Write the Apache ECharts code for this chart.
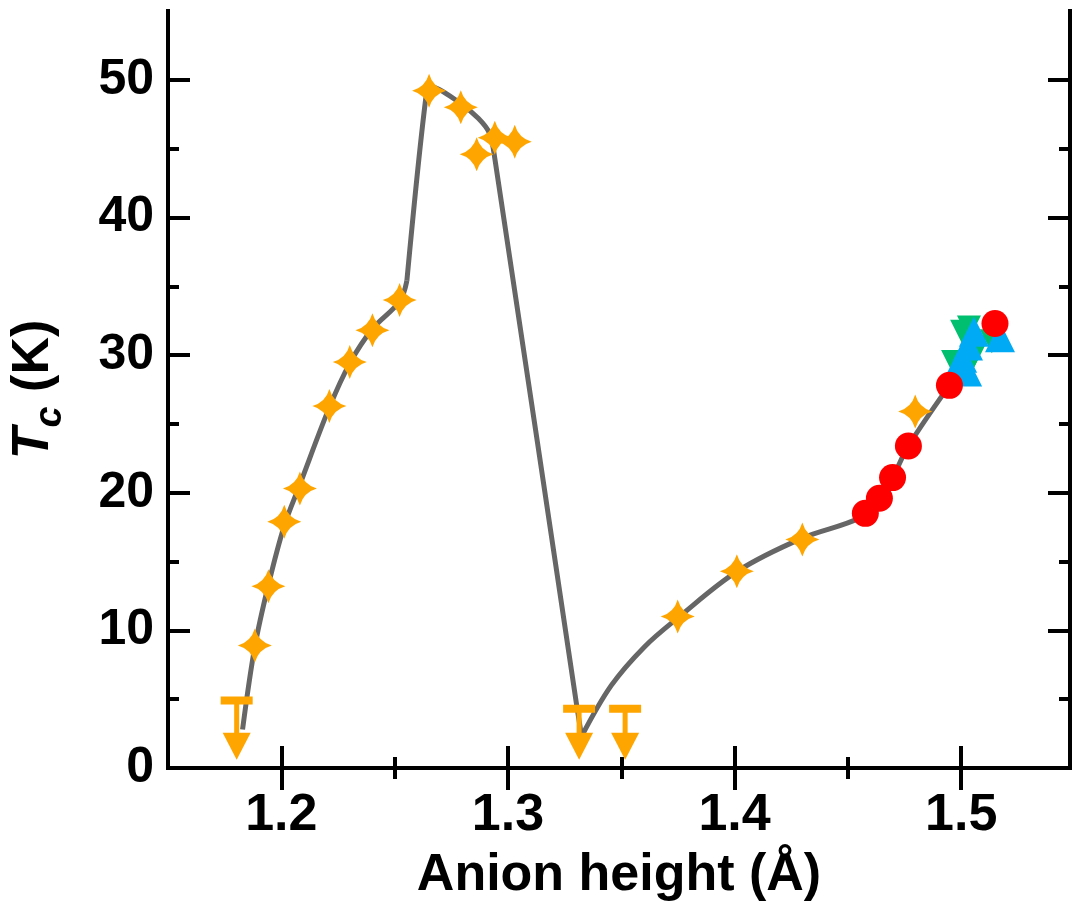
<!DOCTYPE html>
<html>
<head>
<meta charset="utf-8">
<script src="https://cdn.jsdelivr.net/npm/echarts@6/dist/echarts.min.js"></script>
<style>
  html, body { margin: 0; padding: 0; background: #ffffff; }
  #chart { width: 1072px; height: 911px; }
</style>
</head>
<body>
<div id="chart"></div>
<script>
// Superconducting Tc against anion height for iron-based compounds

const xMajorTicks = [1.2, 1.3, 1.4, 1.5];
const xMinorTicks = [1.25, 1.35, 1.45];
const yMajorTicks = [0, 10, 20, 30, 40, 50];
const yMinorTicks = [5, 15, 25, 35, 45];

// [anion height (Å), Tc (K)]
const starPoints = [
  [1.1883, 8.9], [1.1943, 13.2], [1.2013, 17.9], [1.2082, 20.3],
  [1.2212, 26.3], [1.2302, 29.5], [1.2402, 31.8], [1.2522, 34.0],
  [1.2652, 49.2], [1.2792, 48.0], [1.2862, 44.6], [1.2942, 45.8],
  [1.3030, 45.5], [1.3749, 11.0], [1.4010, 14.3], [1.4299, 16.6],
  [1.4797, 25.9]
];
const circlePoints = [
  [1.4577, 18.5], [1.4639, 19.6], [1.4697, 21.1], [1.4767, 23.4],
  [1.4948, 27.8], [1.5149, 32.3]
];
const upTrianglePoints = [
  [1.5056, 31.7], [1.5171, 31.3], [1.5030, 30.7], [1.5004, 29.8],
  [1.4986, 28.9], [1.5026, 28.8]
];
const downTrianglePoints = [
  [1.5004, 31.7], [1.5034, 32.0], [1.5135, 31.0], [1.5052, 29.8],
  [1.5030, 29.1], [1.4964, 29.5]
];
// upper limits on Tc: [anion height, Tc limit]
const upperLimits = [[1.1803, 4.9], [1.3314, 4.3], [1.3517, 4.3]];
const arrowTipLevel = 0.6;

// guide to the eye, in three pieces joined at the sharp corners
const guideRise = [
  [1.1829, 2.8], [1.1883, 8.8], [1.1943, 13.3], [1.2013, 17.6],
  [1.2082, 20.6], [1.2212, 26.2], [1.2302, 29.4], [1.2402, 31.9],
  [1.2522, 33.9], [1.2554, 35.4]
];
const guideDome = [
  [1.2554, 35.4], [1.2637, 48.6], [1.2662, 49.5], [1.2781, 48.4],
  [1.2869, 47.2], [1.2919, 46.1], [1.2942, 44.3], [1.3302, 4.7],
  [1.3325, 2.3]
];
const guideTail = [
  [1.3325, 2.3], [1.3456, 6.0], [1.3602, 8.8], [1.3749, 10.9],
  [1.4013, 14.3], [1.4299, 16.7], [1.4555, 18.2], [1.4639, 19.6],
  [1.4697, 21.1], [1.4767, 23.4], [1.4948, 27.8], [1.5149, 32.3]
];

const X_MIN = 1.15, X_MAX = 1.548;
const Y_MIN = 0, Y_MAX = 55;
const FONT = '"Liberation Sans", Arial, Helvetica, sans-serif';
const ORANGE = '#FFA500';
const STAR = 'path://M50,0 Q61,39 100,50 Q61,61 50,100 Q39,61 0,50 Q39,39 50,0 Z';

function tickAxis(kind, position, values, length, withLine) {
  return {
    type: 'value',
    position: position,
    min: kind === 'x' ? X_MIN : Y_MIN,
    max: kind === 'x' ? X_MAX : Y_MAX,
    axisLine: withLine
      ? { show: true, lineStyle: { color: '#000', width: 4, cap: 'square' } }
      : { show: false },
    axisTick: {
      show: true, inside: true, length: length, customValues: values,
      lineStyle: { color: '#000', width: 4 }
    },
    axisLabel: { show: false },
    splitLine: { show: false }
  };
}

const xMain = tickAxis('x', 'bottom', xMajorTicks, 22, true);
xMain.axisLabel = {
  show: true, customValues: xMajorTicks, margin: 22,
  fontFamily: FONT, fontWeight: 'bold', fontSize: 52, color: '#000',
  formatter: v => v.toFixed(1)
};
xMain.name = 'Anion height (Å)';
xMain.nameLocation = 'middle';
xMain.nameGap = 82;
xMain.nameTextStyle = { fontFamily: FONT, fontWeight: 'bold', fontSize: 52, color: '#000' };

const yMain = tickAxis('y', 'left', yMajorTicks, 22, true);
yMain.axisLabel = {
  show: true, customValues: yMajorTicks, margin: 14,
  fontFamily: FONT, fontWeight: 'bold', fontSize: 50, color: '#000'
};
yMain.name = '{t|T}{s|c}{k| (K)}';
yMain.nameLocation = 'middle';
yMain.nameRotate = 90;
yMain.nameGap = 98;
yMain.nameTextStyle = {
  color: '#000',
  rich: {
    t: { fontFamily: FONT, fontWeight: 'bold', fontStyle: 'italic', fontSize: 52, color: '#000' },
    s: { fontFamily: FONT, fontWeight: 'bold', fontStyle: 'italic', fontSize: 38, color: '#000',
         padding: [34, 0, 0, 0] },
    k: { fontFamily: FONT, fontWeight: 'bold', fontSize: 52, color: '#000' }
  }
};

function renderUpperLimit(params, api) {
  const top = api.coord([api.value(0), api.value(1)]);
  const tip = api.coord([api.value(0), arrowTipLevel]);
  const headH = 27, headW = 28, barW = 32, barH = 8, stemW = 5;
  return {
    type: 'group',
    children: [
      { type: 'rect', shape: { x: top[0] - barW / 2, y: top[1] - barH / 2, width: barW, height: barH },
        style: { fill: ORANGE } },
      { type: 'rect', shape: { x: top[0] - stemW / 2, y: top[1], width: stemW, height: tip[1] - headH - top[1] + 1 },
        style: { fill: ORANGE } },
      { type: 'polygon',
        shape: { points: [[tip[0] - headW / 2, tip[1] - headH], [tip[0] + headW / 2, tip[1] - headH], [tip[0], tip[1]]] },
        style: { fill: ORANGE } }
    ]
  };
}

function guideSeries(name, data, smooth) {
  return {
    name: name, type: 'line', data: data, smooth: smooth,
    symbol: 'none', lineStyle: { color: '#666666', width: 5 }, z: 2
  };
}

const chart = echarts.init(document.getElementById('chart'), null, { renderer: 'canvas' });
chart.setOption({
  animation: false,
  backgroundColor: '#ffffff',
  grid: { left: 165, right: 2, top: 11, bottom: 143, containLabel: false },
  xAxis: [
    xMain,
    tickAxis('x', 'bottom', xMinorTicks, 11, false),
    tickAxis('x', 'top', xMajorTicks, 22, true),
    tickAxis('x', 'top', xMinorTicks, 11, false)
  ],
  yAxis: [
    yMain,
    tickAxis('y', 'left', yMinorTicks, 11, false),
    tickAxis('y', 'right', yMajorTicks, 22, true),
    tickAxis('y', 'right', yMinorTicks, 11, false)
  ],
  series: [
    guideSeries('guide rise', guideRise, 0.35),
    guideSeries('guide dome', guideDome, 0.3),
    guideSeries('guide tail', guideTail, 0.35),
    {
      name: 'stars', type: 'scatter', data: starPoints, symbol: STAR, symbolSize: 34,
      itemStyle: { color: ORANGE, opacity: 1 }, z: 3
    },
    {
      name: 'down triangles', type: 'scatter', data: downTrianglePoints,
      symbol: 'triangle', symbolRotate: 180, symbolSize: 24,
      itemStyle: { color: '#00C070', opacity: 1 }, z: 3
    },
    {
      name: 'up triangles', type: 'scatter', data: upTrianglePoints,
      symbol: 'triangle', symbolSize: 30,
      itemStyle: { color: '#00AAF5', opacity: 1 }, z: 3
    },
    {
      name: 'circles', type: 'scatter', data: circlePoints, symbol: 'circle', symbolSize: 27,
      itemStyle: { color: '#FF0000', opacity: 1 }, z: 4
    },
    {
      name: 'upper limits', type: 'custom', data: upperLimits,
      renderItem: renderUpperLimit, z: 4
    }
  ]
});
</script>
</body>
</html>
